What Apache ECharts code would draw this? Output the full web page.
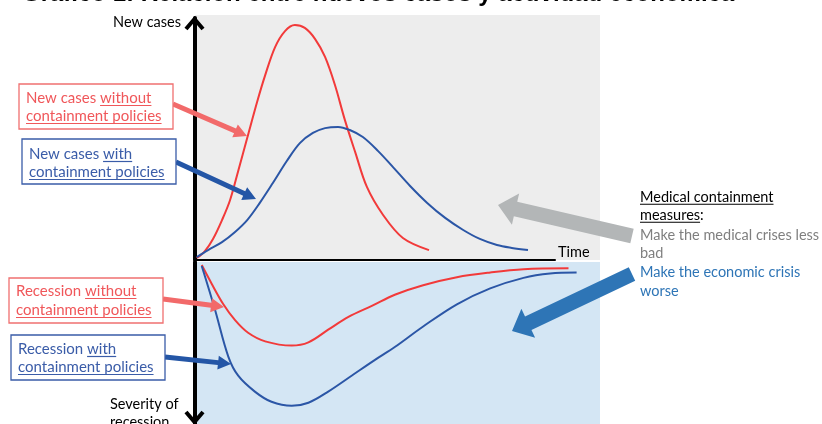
<!DOCTYPE html>
<html><head><meta charset="utf-8">
<script src="https://cdn.jsdelivr.net/npm/echarts@6/dist/echarts.min.js"></script>
<style>html,body{margin:0;padding:0;background:#fff;overflow:hidden}#c{width:822px;height:424px}</style>
</head><body><div id="c"></div>
<script>
// ---- Data (arbitrary units) ----
// Top panel: new cases over time (time 0..80 across the top panel)
const casesNoPolicyT = [0.4, 2.2, 4.0, 6.0, 7.8, 9.6, 11.6, 13.8, 15.6, 17.8, 20.0, 22.2, 24.4, 26.7, 28.9, 31.1, 33.3, 35.6, 38.2, 41.8, 46.2, 52.0];
const casesNoPolicyV = [0.8, 3.7, 8.7, 16.5, 24.8, 36.8, 50.4, 65.3, 76.4, 88.0, 94.6, 97.1, 95.9, 91.3, 83.9, 72.3, 57.9, 44.6, 30.2, 18.6, 9.1, 4.1];
const casesPolicyT = [0.4, 2.9, 6.0, 8.9, 11.6, 14.4, 17.3, 20.4, 23.3, 26.2, 28.9, 31.8, 34.4, 37.3, 40.7, 44.0, 47.8, 51.6, 55.6, 59.6, 63.3, 67.1, 70.4, 74.0];
const casesPolicyV = [1.2, 4.1, 7.4, 11.6, 16.5, 23.6, 31.8, 40.9, 48.3, 52.5, 54.5, 55.0, 53.7, 50.8, 45.0, 38.4, 30.6, 23.6, 17.4, 12.4, 8.7, 6.2, 5.0, 4.1];
// Bottom panel: severity of recession over time (time 0..90 across the bottom panel)
const recNoPolicyT = [1.5, 3.7, 6.3, 8.9, 11.8, 15.6, 21.5, 25.2, 29.6, 34.1, 39.3, 44.4, 50.7, 58.2, 65.6, 73.0, 83.0];
const recNoPolicyV = [1.9, 13.4, 26.1, 35.9, 43.7, 49.0, 51.6, 49.6, 41.8, 33.9, 27.1, 20.2, 14.3, 9.4, 6.5, 4.5, 3.9];
const recPolicyT = [1.5, 4.4, 7.4, 9.6, 13.3, 17.0, 21.5, 25.2, 29.6, 34.8, 40.0, 44.4, 50.7, 58.2, 65.6, 73.0, 78.9, 84.8];
const recPolicyV = [2.5, 29.0, 58.4, 70.2, 80.0, 86.3, 88.8, 86.9, 80.0, 70.2, 60.4, 52.5, 39.8, 26.1, 16.3, 9.8, 7.1, 6.5];

const RED = '#f23a3a', BLUE = '#2b56a6';
const RED_T = '#f0575a', BLUE_T = '#3a5ca8';
const RED_A = '#f26a6a', BLUE_A = '#2456a6';
const FONT = 'Lato';
const FS = 15;

const pair = (t, v) => t.map((x, i) => [x, v[i]]);

const ctx = document.createElement('canvas').getContext('2d');
function measure(txt, font) { ctx.font = font; return ctx.measureText(txt).width; }

const graphics = [];
// background of the top panel
graphics.push({ type: 'rect', z: -10, shape: { x: 195, y: 15, width: 405, height: 245 }, style: { fill: '#ededed' }, silent: true });

function textLine(x, y, segs, fs) {
  fs = fs || FS;
  const font = fs + 'px ' + FONT;
  let cx = x;
  segs.forEach(s => {
    const w = measure(s.t, font);
    graphics.push({ type: 'text', z: 20, style: { text: s.t, x: cx, y: y, fill: s.c, font: font, align: 'left', verticalAlign: 'middle' } });
    if (s.u) {
      graphics.push({ type: 'line', z: 20, shape: { x1: cx, y1: y + fs * 0.5, x2: cx + w, y2: y + fs * 0.5 }, style: { stroke: s.c, lineWidth: 1.2 } });
    }
    cx += w;
  });
}
function box(x, y, w, h, color) {
  graphics.push({ type: 'rect', z: 19, shape: { x: x, y: y, width: w, height: h }, style: { fill: '#fff', stroke: color, lineWidth: 1.3 } });
}
function arrow(x1, y1, x2, y2, w, hl, hw, color) {
  const dx = x2 - x1, dy = y2 - y1, L = Math.hypot(dx, dy), ux = dx / L, uy = dy / L, px = -uy, py = ux;
  const bx = x2 - ux * hl, by = y2 - uy * hl;
  const pts = [[x1 + px * w / 2, y1 + py * w / 2], [bx + px * w / 2, by + py * w / 2], [bx + px * hw / 2, by + py * hw / 2], [x2, y2],
  [bx - px * hw / 2, by - py * hw / 2], [bx - px * w / 2, by - py * w / 2], [x1 - px * w / 2, y1 - py * w / 2]];
  graphics.push({ type: 'polygon', z: 18, shape: { points: pts }, style: { fill: color } });
}

// Title (cut off at the top in the reference)
graphics.push({ type: 'text', z: 20, style: { text: 'Gráfico 1: Relación entre nuevos casos y actividad económica', x: 22, y: 6, fill: '#000', font: 'bold 24px "Liberation Sans"', align: 'left', verticalAlign: 'bottom' } });

// Left annotation boxes
box(19, 84, 154, 45, '#f07070');
textLine(26, 98, [{ t: 'New cases ', c: RED_T }, { t: 'without', c: RED_T, u: true }]);
textLine(26, 116, [{ t: 'containment policies', c: RED_T, u: true }]);
arrow(173, 104, 247, 136, 5, 13, 14, RED_A);

box(22, 139, 154, 45, BLUE_T);
textLine(29, 154, [{ t: 'New cases ', c: BLUE_T }, { t: 'with', c: BLUE_T, u: true }]);
textLine(29, 172, [{ t: 'containment policies', c: BLUE_T, u: true }]);
arrow(176, 162, 256, 199, 5, 13, 14, BLUE_A);

box(9, 278, 154, 45, '#f07070');
textLine(16, 291, [{ t: 'Recession ', c: RED_T }, { t: 'without', c: RED_T, u: true }]);
textLine(16, 310, [{ t: 'containment policies', c: RED_T, u: true }]);
arrow(163, 299, 224, 307, 5, 13, 14, RED_A);

box(11, 335, 154, 45, BLUE_T);
textLine(18, 349, [{ t: 'Recession ', c: BLUE_T }, { t: 'with', c: BLUE_T, u: true }]);
textLine(18, 367, [{ t: 'containment policies', c: BLUE_T, u: true }]);
arrow(165, 357, 231, 364, 5, 13, 14, BLUE_A);

// Axis labels
textLine(110, 404, [{ t: 'Severity of', c: '#000' }], 14.5);
textLine(110, 422, [{ t: 'recession', c: '#000' }], 14.5);

// Right text
const RF = 14.5;
textLine(640, 197, [{ t: 'Medical containment', c: '#000', u: true }], RF);
textLine(640, 215, [{ t: 'measures', c: '#000', u: true }, { t: ':', c: '#000' }], RF);
textLine(640, 235, [{ t: 'Make the medical crises less', c: '#7f7f7f' }], RF);
textLine(640, 253, [{ t: 'bad', c: '#7f7f7f' }], RF);
textLine(640, 272, [{ t: 'Make the economic crisis', c: '#2e75b6' }], RF);
textLine(640, 291, [{ t: 'worse', c: '#2e75b6' }], RF);

// Big arrows
arrow(632, 236, 498, 205, 15, 18, 32, '#b3b6b7');
arrow(632, 274, 512, 331, 15, 18, 32, '#2e75b6');

// Vertical axis arrowheads
graphics.push({ type: 'polyline', z: 15, shape: { points: [[186, 29], [194.5, 19], [203, 29]] }, style: { stroke: '#000', lineWidth: 4, fill: null, lineJoin: 'miter' } });
graphics.push({ type: 'polyline', z: 15, shape: { points: [[186, 412], [194.5, 422], [203, 412]] }, style: { stroke: '#000', lineWidth: 4, fill: null, lineJoin: 'miter' } });

const chart = echarts.init(document.getElementById('c'), null, { renderer: 'canvas' });
const hidden = { show: false };
const lineSeries = (name, xi, t, v, color) => ({
  type: 'line', name: name, xAxisIndex: xi, yAxisIndex: xi, data: pair(t, v),
  smooth: 0.35, showSymbol: false, lineStyle: { color: color, width: 2 }
});
chart.setOption({
  animation: false,
  backgroundColor: '#fff',
  grid: [
    { left: 195, top: 18, width: 360, height: 242, show: false },
    { left: 195, top: 262, width: 405, height: 170, show: true, backgroundColor: '#d4e6f4', borderWidth: 0 }
  ],
  xAxis: [
    { type: 'value', gridIndex: 0, min: 0, max: 80, axisLine: { show: true, lineStyle: { color: '#000', width: 2 } }, axisTick: hidden, axisLabel: hidden, splitLine: hidden,
      name: 'Time', nameLocation: 'end', nameGap: 3, nameTextStyle: { fontFamily: FONT, fontSize: 14.5, color: '#000', verticalAlign: 'bottom', align: 'left', padding: [0, 0, 0, 0] } },
    { type: 'value', gridIndex: 1, min: 0, max: 90, axisLine: hidden, axisTick: hidden, axisLabel: hidden, splitLine: hidden }
  ],
  yAxis: [
    { type: 'value', gridIndex: 0, min: 0, max: 100, axisLine: { show: true, lineStyle: { color: '#000', width: 4 } }, axisTick: hidden, axisLabel: hidden, splitLine: hidden,
      name: 'New cases', nameLocation: 'end', nameGap: -4, nameTextStyle: { fontFamily: FONT, fontSize: 14.5, color: '#000', align: 'right', verticalAlign: 'middle', padding: [0, 14, 0, 0] } },
    { type: 'value', gridIndex: 1, min: 0, max: 100, inverse: true, axisLine: { show: true, lineStyle: { color: '#000', width: 4 } }, axisTick: hidden, axisLabel: hidden, splitLine: hidden }
  ],
  series: [
    lineSeries('New cases without containment policies', 0, casesNoPolicyT, casesNoPolicyV, RED),
    lineSeries('New cases with containment policies', 0, casesPolicyT, casesPolicyV, BLUE),
    lineSeries('Recession without containment policies', 1, recNoPolicyT, recNoPolicyV, RED),
    lineSeries('Recession with containment policies', 1, recPolicyT, recPolicyV, BLUE)
  ],
  graphic: graphics
});
</script>
</body></html>
